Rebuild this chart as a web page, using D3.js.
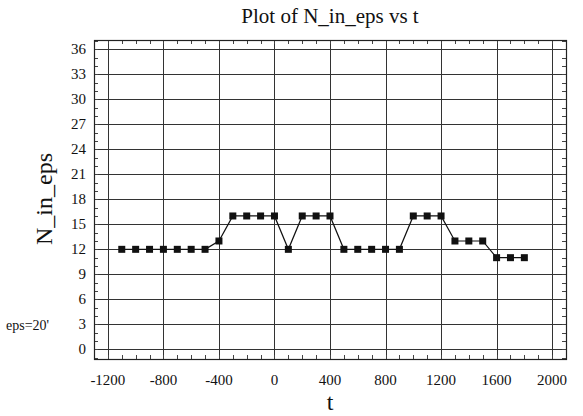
<!DOCTYPE html>
<html>
<head>
<meta charset="utf-8">
<script src="https://cdn.jsdelivr.net/npm/d3@7"></script>
<style>
  html, body { margin: 0; padding: 0; background: #ffffff; }
</style>
</head>
<body>
<svg id="chart" width="583" height="416"></svg>
<script>
// Sampled time points and counts
const tValues = [-1100, -1000, -900, -800, -700, -600, -500, -400, -300, -200, -100, 0,
                 100, 200, 300, 400, 500, 600, 700, 800, 900, 1000, 1100, 1200,
                 1300, 1400, 1500, 1600, 1700, 1800];
const nValues = [12, 12, 12, 12, 12, 12, 12, 13, 16, 16, 16, 16,
                 12, 16, 16, 16, 12, 12, 12, 12, 12, 16, 16, 16,
                 13, 13, 13, 11, 11, 11];
const xTicks = [-1200, -800, -400, 0, 400, 800, 1200, 1600, 2000];
const yTicks = [0, 3, 6, 9, 12, 15, 18, 21, 24, 27, 30, 33, 36];

const serif = "Liberation Serif";
const svg = d3.select("#chart");
const plotLeft = 94, plotRight = 566, plotTop = 40, plotBottom = 359;

const x = d3.scaleLinear().domain([-1300, 2100]).range([plotLeft, plotRight]);
const y = d3.scaleLinear().domain([-1.15, 37.1]).range([plotBottom, plotTop]);

// grid
const grid = svg.append("g").attr("stroke", "#333").attr("stroke-width", 1);
grid.selectAll("line.v").data(xTicks).join("line")
  .attr("x1", d => Math.round(x(d)) + 0.5).attr("x2", d => Math.round(x(d)) + 0.5)
  .attr("y1", plotTop).attr("y2", plotBottom);
grid.selectAll("line.h").data(yTicks).join("line")
  .attr("y1", d => Math.round(y(d)) + 0.5).attr("y2", d => Math.round(y(d)) + 0.5)
  .attr("x1", plotLeft).attr("x2", plotRight);

// minor ticks, pointing inward on all four sides
const xMinor = d3.range(-1300, 2101, 100);
const yMinor = d3.range(-1, 38, 1);
const ticks = svg.append("g").attr("stroke", "#444").attr("stroke-width", 1);
ticks.selectAll("line.xb").data(xMinor).join("line")
  .attr("x1", d => Math.round(x(d)) + 0.5).attr("x2", d => Math.round(x(d)) + 0.5)
  .attr("y1", plotBottom).attr("y2", plotBottom - 4);
ticks.selectAll("line.xt").data(xMinor).join("line")
  .attr("x1", d => Math.round(x(d)) + 0.5).attr("x2", d => Math.round(x(d)) + 0.5)
  .attr("y1", plotTop).attr("y2", plotTop + 4);
ticks.selectAll("line.yl").data(yMinor).join("line")
  .attr("y1", d => Math.round(y(d)) + 0.5).attr("y2", d => Math.round(y(d)) + 0.5)
  .attr("x1", plotLeft).attr("x2", plotLeft + 4);
ticks.selectAll("line.yr").data(yMinor).join("line")
  .attr("y1", d => Math.round(y(d)) + 0.5).attr("y2", d => Math.round(y(d)) + 0.5)
  .attr("x1", plotRight).attr("x2", plotRight - 4);

// frame
svg.append("rect")
  .attr("x", plotLeft + 0.5).attr("y", plotTop + 0.5)
  .attr("width", plotRight - plotLeft).attr("height", plotBottom - plotTop)
  .attr("fill", "none").attr("stroke", "#222").attr("stroke-width", 1.2);

// tick labels
svg.append("g").selectAll("text").data(xTicks).join("text")
  .attr("x", d => x(d)).attr("y", 385)
  .attr("text-anchor", "middle").attr("font-size", 15).attr("font-family", serif).attr("fill", "#111")
  .text(d => d);
svg.append("g").selectAll("text").data(yTicks).join("text")
  .attr("x", 86).attr("y", d => y(d) + 5)
  .attr("text-anchor", "end").attr("font-size", 15).attr("font-family", serif).attr("fill", "#111")
  .text(d => d);

// data line and markers
const line = d3.line().x((d, i) => x(tValues[i])).y(d => y(d));
svg.append("path").datum(nValues)
  .attr("d", line).attr("fill", "none").attr("stroke", "#111").attr("stroke-width", 1.2);
svg.append("g").selectAll("rect").data(nValues).join("rect")
  .attr("x", (d, i) => x(tValues[i]) - 3.5).attr("y", d => y(d) - 3.5)
  .attr("width", 7).attr("height", 7).attr("fill", "#111");

// titles
svg.append("text").attr("x", 330).attr("y", 23)
  .attr("text-anchor", "middle").attr("font-size", 21).attr("font-family", serif).attr("fill", "#111")
  .text("Plot of N_in_eps vs t");
svg.append("text").attr("x", 330).attr("y", 410)
  .attr("text-anchor", "middle").attr("font-size", 24).attr("font-family", serif).attr("fill", "#111")
  .text("t");
svg.append("text")
  .attr("transform", "translate(52,199) rotate(-90)")
  .attr("text-anchor", "middle").attr("font-size", 24).attr("font-family", serif).attr("fill", "#111")
  .text("N_in_eps");
svg.append("text").attr("x", 6).attr("y", 330)
  .attr("font-size", 14).attr("font-family", serif).attr("fill", "#111")
  .text("eps=20'");
</script>
</body>
</html>
